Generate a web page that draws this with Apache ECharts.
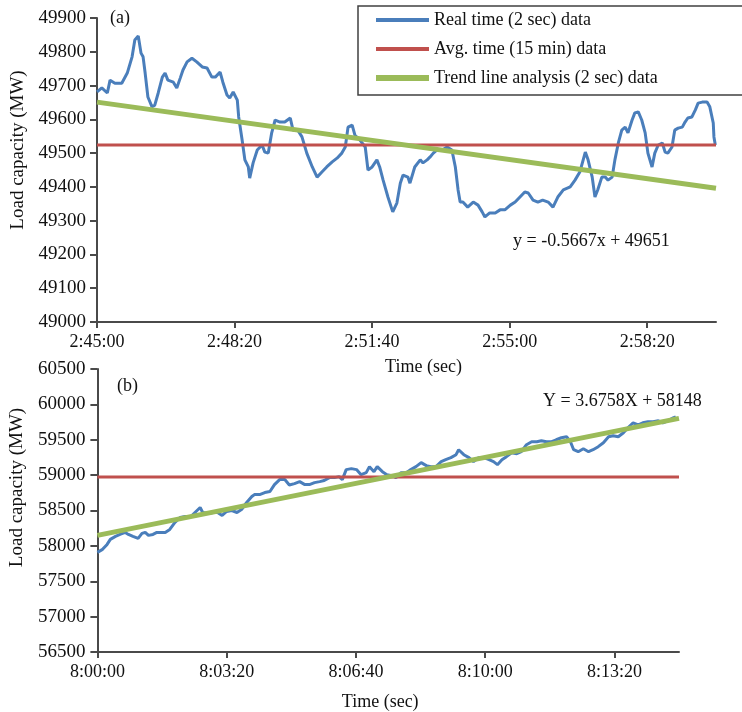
<!DOCTYPE html>
<html><head><meta charset="utf-8">
<script src="https://cdn.jsdelivr.net/npm/echarts@6/dist/echarts.min.js"></script>
<style>html,body{margin:0;padding:0;background:#fff}#c{width:742px;height:712px}</style>
</head><body><div id="c"></div>
<script>
// ---------- data ----------
const seriesNames = ['Real time (2 sec) data', 'Avg. time (15 min) data', 'Trend line analysis (2 sec) data'];

// (a) seconds after 2:45:00, load (MW)
const topTime = [0,7,15,19,26,36,44,51,55,60,64,67,70,74,80,84,89,95,99,103,111,116,121,125,131,138,145,153,160,167,172,179,183,189,193,198,204,206,211,215,220,222,227,233,240,244,249,254,259,266,273,281,285,292,298,305,313,320,327,334,342,349,356,361,365,371,375,382,390,394,400,407,411,416,423,430,436,441,445,452,455,462,470,474,480,484,489,494,502,509,516,521,525,528,532,539,547,554,560,564,571,579,586,593,601,608,615,622,627,634,641,648,656,663,670,678,680,688,695,702,710,714,720,724,728,734,739,743,749,753,758,763,768,772,778,782,787,792,797,801,807,811,816,822,826,830,836,840,845,851,855,859,865,870,874,880,887,891,896,897,899];
const topLoad = [49681,49693,49678,49716,49707,49707,49737,49785,49835,49847,49796,49785,49737,49666,49637,49642,49678,49725,49737,49716,49710,49693,49722,49746,49770,49781,49770,49755,49752,49725,49725,49740,49710,49672,49663,49681,49657,49607,49539,49480,49459,49426,49471,49509,49524,49503,49500,49560,49598,49592,49592,49604,49568,49568,49548,49500,49459,49429,49444,49459,49474,49485,49500,49518,49577,49583,49553,49539,49518,49450,49459,49480,49459,49420,49370,49326,49352,49411,49435,49429,49411,49459,49480,49471,49480,49488,49500,49509,49509,49518,49509,49459,49391,49355,49355,49340,49355,49346,49326,49311,49323,49323,49332,49332,49346,49355,49370,49385,49382,49361,49355,49361,49355,49340,49370,49391,49391,49400,49420,49444,49503,49480,49429,49370,49391,49429,49429,49420,49429,49480,49530,49568,49577,49560,49598,49619,49622,49598,49560,49500,49459,49500,49524,49530,49503,49500,49518,49568,49574,49577,49592,49604,49607,49628,49648,49651,49651,49637,49589,49548,49524];
const topAvgEnds = [[0, 49524], [900, 49524]];
const topTrendEnds = [[0, 49651], [900, 49396]];
const topTickSec = [0, 200, 400, 600, 800];
const topTickLabels = ['2:45:00', '2:48:20', '2:51:40', '2:55:00', '2:58:20'];
const topEquation = 'y = -0.5667x + 49651';

// (b) seconds after 8:00:00, load (MW)
const bottomTime = [0,8,15,20,28,35,43,48,55,63,69,74,79,86,92,97,105,112,120,128,136,143,151,159,163,171,179,186,193,200,208,216,223,231,239,243,251,259,267,274,282,290,297,305,313,321,328,336,344,351,359,367,374,379,385,393,401,408,416,421,428,433,441,448,456,462,470,478,485,493,501,509,516,524,532,539,547,555,559,567,575,582,590,598,606,613,619,626,633,641,649,656,664,672,680,687,695,703,710,718,726,732,737,744,752,760,767,775,783,791,798,806,814,821,829,837,844,852,860,868,875,883,891,895];
const bottomLoad = [57908,57951,58021,58092,58134,58162,58190,58162,58134,58106,58176,58190,58148,58162,58190,58190,58190,58232,58331,58401,58415,58401,58472,58542,58472,58458,58472,58472,58430,58486,58500,58472,58514,58613,58697,58725,58725,58754,58768,58866,58937,58937,58860,58880,58908,58866,58866,58894,58908,58923,58965,58965,58979,58937,59078,59092,59078,59007,59035,59120,59049,59120,59049,59007,58993,58965,59035,59035,59078,59120,59176,59134,59120,59120,59190,59218,59247,59289,59359,59289,59247,59190,59247,59247,59218,59190,59148,59218,59261,59317,59303,59331,59430,59472,59472,59486,59472,59472,59500,59528,59542,59472,59359,59331,59373,59331,59359,59402,59458,59542,59556,59542,59599,59669,59740,59711,59740,59754,59754,59768,59740,59768,59810,59824];
const bottomAvgEnds = [[0, 58975], [900, 58975]];
const bottomTrendEnds = [[0, 58148], [900, 59802]];
const bottomTickSec = [0, 200, 400, 600, 800];
const bottomTickLabels = ['8:00:00', '8:03:20', '8:06:40', '8:10:00', '8:13:20'];
const bottomEquation = 'Y = 3.6758X + 58148';

// ---------- chart ----------
const FONT = '"Liberation Serif", "DejaVu Serif", serif';
const AX = '#4a4a4a';
const TXT = '#111';
const BLUE = '#4a7ebb', RED = '#c0504d', GREEN = '#9bbb59';
const COLORS = [BLUE, RED, GREEN];
const WIDTHS = [3, 3, 5];

function pairs(xs, ys) { return xs.map((x, i) => [x, ys[i]]); }

function xAxisCfg(gi, ticks, labels, pad, gap) {
  return {
    type: 'value', gridIndex: gi, min: 0, max: 900, interval: 200,
    axisLine: { show: true, lineStyle: { color: AX, width: 2 } },
    axisTick: { show: true, length: 6, customValues: ticks, lineStyle: { color: AX, width: 2 } },
    axisLabel: { customValues: ticks, formatter: v => { const i = ticks.indexOf(v); return i >= 0 ? labels[i] : ''; },
      margin: 11, fontFamily: FONT, fontSize: 18, color: TXT },
    splitLine: { show: false },
    name: 'Time (sec)', nameLocation: 'middle', nameGap: gap,
    nameTextStyle: { fontFamily: FONT, fontSize: 18, color: TXT, padding: pad }
  };
}
function yAxisCfg(gi, min, max, interval, margin, pad) {
  return {
    type: 'value', gridIndex: gi, min, max, interval,
    axisLine: { show: true, lineStyle: { color: AX, width: 2 } },
    axisTick: { show: true, length: 7, lineStyle: { color: AX, width: 2 } },
    axisLabel: { margin, fontFamily: FONT, fontSize: 19, color: TXT, formatter: v => String(v) },
    splitLine: { show: false },
    name: 'Load capacity (MW)', nameLocation: 'middle', nameGap: 69,
    nameTextStyle: { fontFamily: FONT, fontSize: 19, color: TXT, padding: pad }
  };
}
function lineSeries(name, xi, yi, data, color, width, z) {
  return { name, type: 'line', xAxisIndex: xi, yAxisIndex: yi, data, showSymbol: false, symbol: 'none',
    lineStyle: { color, width }, itemStyle: { color }, z, animation: false, silent: true };
}

const chart = echarts.init(document.getElementById('c'), null, { renderer: 'canvas' });
chart.setOption({
  backgroundColor: '#fff',
  animation: false,
  grid: [
    { left: 97, right: 26, top: 18, height: 304 },
    { left: 95, right: 63, top: 369, height: 284 }
  ],
  xAxis: [
    xAxisCfg(0, topTickSec, topTickLabels, [0, 0, 0, 34], 36),
    xAxisCfg(1, bottomTickSec, bottomTickLabels, [0, 16, 0, 0], 41)
  ],
  yAxis: [
    yAxisCfg(0, 49000, 49900, 100, 11, [0, 0, 0, 40]),
    yAxisCfg(1, 56500, 60500, 500, 12, [0, 0, 0, 46])
  ],
  legend: {
    orient: 'vertical', left: 358, top: 6,
    itemWidth: 53, itemHeight: 20, itemGap: 9,
    padding: [4, 90, 7, 15],
    borderColor: '#404040', borderWidth: 1.5, backgroundColor: '#fff',
    itemStyle: { opacity: 0 },
    textStyle: { fontFamily: FONT, fontSize: 18, color: TXT, lineHeight: 20 },
    data: seriesNames.map((n, i) => ({ name: n, itemStyle: { opacity: 0 }, lineStyle: { color: COLORS[i], width: WIDTHS[i] + 1 } })),
    selectedMode: false
  },
  series: [
    lineSeries(seriesNames[0], 0, 0, pairs(topTime, topLoad), BLUE, 3, 2),
    lineSeries(seriesNames[1], 0, 0, topAvgEnds, RED, 3, 3),
    lineSeries(seriesNames[2], 0, 0, topTrendEnds, GREEN, 5, 4),
    lineSeries(seriesNames[0], 1, 1, pairs(bottomTime, bottomLoad), BLUE, 3, 2),
    lineSeries(seriesNames[1], 1, 1, bottomAvgEnds, RED, 3, 3),
    lineSeries(seriesNames[2], 1, 1, bottomTrendEnds, GREEN, 5, 4)
  ],
  graphic: [
    { type: 'text', left: 110, top: 9, style: { text: '(a)', font: '18px ' + FONT, fill: TXT } },
    { type: 'text', left: 117, top: 377, style: { text: '(b)', font: '18px ' + FONT, fill: TXT } },
    { type: 'text', left: 513, top: 232, style: { text: topEquation, font: '18px ' + FONT, fill: TXT } },
    { type: 'text', left: 543, top: 392, style: { text: bottomEquation, font: '18px ' + FONT, fill: TXT } }
  ]
});
</script>
</body></html>
